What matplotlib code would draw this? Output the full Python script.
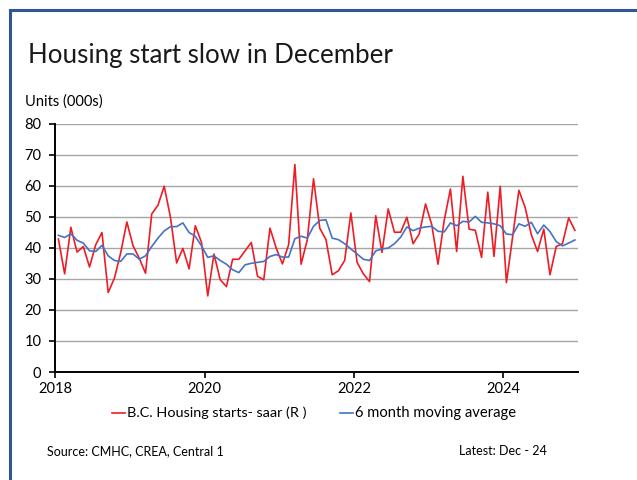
import matplotlib
matplotlib.use("Agg")
import matplotlib.pyplot as plt
from matplotlib.lines import Line2D
import numpy as np

plt.rcParams['font.family'] = ['Lato', 'DejaVu Sans']

start_year = 2018
housing_starts = [
    42.8, 31.6, 46.6, 38.6, 40.4, 33.8, 41.0, 44.9, 25.6, 30.2, 38.3, 48.3,
    40.6, 36.6, 31.8, 50.9, 53.7, 59.8, 49.9, 35.1, 39.8, 33.2, 47.1, 41.7,
    24.5, 38.0, 29.7, 27.5, 36.3, 36.3, 39.0, 41.7, 30.8, 29.7, 46.3, 39.9,
    34.8, 41.0, 66.8, 34.7, 42.6, 62.2, 46.3, 42.6, 31.3, 32.6, 35.9, 51.2,
    35.3, 31.6, 29.1, 50.3, 38.5, 52.5, 45.0, 45.0, 49.8, 41.3, 44.5, 54.1,
    47.4, 34.7, 48.8, 58.9, 38.8, 63.0, 46.0, 45.6, 36.9, 57.9, 37.2, 59.8,
    28.8, 43.6, 58.5, 53.0, 44.2, 38.8, 46.0, 31.3, 40.4, 41.3, 49.6, 45.6,
]
moving_avg = [
    44.0, 43.3, 44.5, 42.4, 41.5, 39.0, 38.8, 40.8, 37.4, 35.9, 35.6, 38.0,
    38.0, 36.3, 37.4, 40.4, 43.1, 45.4, 46.8, 46.8, 48.0, 44.9, 43.7, 40.6,
    36.9, 37.4, 35.9, 34.7, 32.9, 32.0, 34.5, 35.0, 35.3, 35.6, 37.2, 37.8,
    37.0, 37.0, 42.9, 43.7, 43.1, 46.9, 48.8, 49.0, 43.1, 42.6, 41.3, 39.6,
    38.0, 36.3, 35.9, 39.0, 39.6, 39.9, 41.3, 43.4, 46.7, 45.5, 46.3, 46.7,
    46.9, 45.3, 45.1, 48.0, 47.1, 48.5, 48.3, 50.1, 48.2, 48.0, 47.7, 47.1,
    44.4, 44.2, 47.7, 46.9, 48.2, 44.5, 47.3, 45.2, 42.0, 40.6, 41.5, 42.5,
]
year_ticks = [2018, 2020, 2022, 2024]
y_ticks = [0, 10, 20, 30, 40, 50, 60, 70, 80]

x = start_year + (np.arange(len(housing_starts)) + 0.5) / 12.0

W, H = 637, 480
fig = plt.figure(figsize=(W / 100, H / 100), dpi=100)
ax = fig.add_axes([55.3 / W, 1 - 372 / H, (578 - 55.3) / W, (372 - 123.5) / H])

ax.plot(x, housing_starts, color='#ee1c25', lw=1.2, zorder=3)
ax.plot(x, moving_avg, color='#4472c4', lw=1.2, zorder=3)

ax.set_xlim(2018, 2025)
ax.set_ylim(0, 80)
ax.set_xticks(year_ticks)
ax.set_xticklabels([str(y) for y in year_ticks])
ax.set_yticks(y_ticks)
ax.grid(axis='y', color='#a6a6a6', lw=1.0, zorder=0)
ax.set_axisbelow(True)
for s in ['top', 'right']:
    ax.spines[s].set_visible(False)
for s in ['left', 'bottom']:
    ax.spines[s].set_color('black')
    ax.spines[s].set_linewidth(1.4)
ax.tick_params(axis='both', direction='out', length=4, width=1.2, labelsize=10.5, colors='black', pad=3)
ax.tick_params(axis='y', pad=6)

fig.text(28 / W, 1 - 55 / H, 'Housing start slow in December', fontsize=18.6, va='center', ha='left', color='#1a1a1a')
fig.text(25 / W, 1 - 102 / H, 'Units (000s)', fontsize=10.5, va='center', ha='left')

# legend
ly = 1 - 413 / H
fig.add_artist(Line2D([112 / W, 125 / W], [ly, ly], color='#ee1c25', lw=1.2))
fig.text(127 / W, ly, 'B.C. Housing starts- saar (R )', fontsize=10.4, va='center', ha='left')
fig.add_artist(Line2D([340 / W, 353 / W], [ly, ly], color='#4472c4', lw=1.2))
fig.text(355 / W, ly, '6 month moving average', fontsize=10.6, va='center', ha='left')

fig.text(47 / W, 1 - 451 / H, 'Source: CMHC, CREA, Central 1', fontsize=9, va='center', ha='left')
fig.text(459 / W, 1 - 451 / H, 'Latest: Dec - 24', fontsize=9, va='center', ha='left')

# frame
bc = '#2f5597'
fig.add_artist(Line2D([9.5 / W, 1.0], [1 - 9.5 / H, 1 - 9.5 / H], color=bc, lw=2.2))
fig.add_artist(Line2D([9.5 / W, 9.5 / W], [0, 1 - 9.5 / H], color=bc, lw=2.2))

fig.savefig('out.png', dpi=100)
